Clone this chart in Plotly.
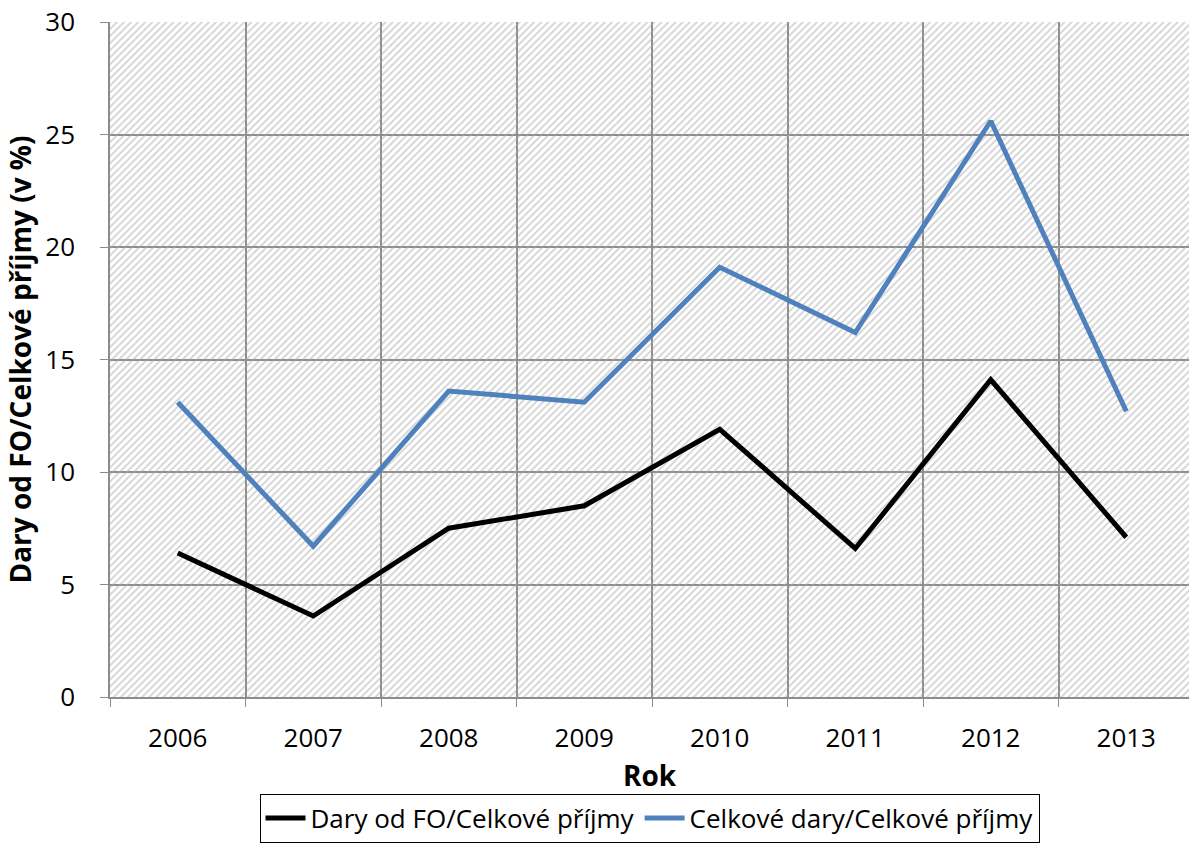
import plotly.graph_objects as go

years = ["2006", "2007", "2008", "2009", "2010", "2011", "2012", "2013"]
dary_fo = [6.4, 3.6, 7.5, 8.5, 11.9, 6.6, 14.1, 7.1]
celkove_dary = [13.1, 6.7, 13.6, 13.1, 19.1, 16.2, 25.6, 12.7]
y_ticks = [0, 5, 10, 15, 20, 25, 30]

FONT = "Open Sans, Noto Sans, sans-serif"
GRID = "#8c8c8c"

fig = go.Figure()

# hatched plot background on the base (hidden) axis pair, below the data subplot
fig.add_trace(go.Bar(
    x=[0.5], y=[1], width=[1], xaxis="x", yaxis="y",
    marker=dict(color="rgba(0,0,0,0)", line=dict(width=0),
                pattern=dict(shape="/", size=5, solidity=0.35,
                             fgcolor="#a8a8a8", fillmode="overlay")),
    showlegend=False, hoverinfo="skip",
))

fig.add_trace(go.Scatter(
    x=years, y=dary_fo, mode="lines", name="Dary od FO/Celkové příjmy",
    xaxis="x2", yaxis="y2",
    line=dict(color="#000000", width=5),
))
fig.add_trace(go.Scatter(
    x=years, y=celkove_dary, mode="lines", name="Celkové dary/Celkové příjmy",
    xaxis="x2", yaxis="y2",
    line=dict(color="#4f81bd", width=5),
))

fig.update_layout(
    width=1189, height=843,
    margin=dict(l=110, r=0, t=22, b=143),
    paper_bgcolor="white", plot_bgcolor="white",
    font=dict(family=FONT, size=26, color="#000000"),
    bargap=0,
    xaxis=dict(range=[0, 1], visible=False, fixedrange=True),
    yaxis=dict(range=[0, 1], visible=False, fixedrange=True),
    xaxis2=dict(
        overlaying="x", type="category", range=[-0.5, 7.463],
        tickson="boundaries", ticks="outside", ticklen=8, tickcolor=GRID,
        showgrid=True, gridcolor=GRID, gridwidth=1.5,
        showline=True, linecolor=GRID, linewidth=1.5,
        ticklabelstandoff=17, tickfont=dict(size=26),
        title=dict(text="<b>Rok</b>", font=dict(size=28), standoff=12),
        zeroline=False,
    ),
    yaxis2=dict(
        overlaying="y", range=[0, 30], tickvals=y_ticks,
        ticks="outside", ticklen=8, tickcolor=GRID,
        showgrid=True, gridcolor=GRID, gridwidth=1.5,
        showline=True, linecolor=GRID, linewidth=1.5,
        ticklabelstandoff=20, zeroline=False, tickfont=dict(size=26),
        title=dict(text="<b>Dary od FO/Celkové příjmy (v %)</b>",
                   font=dict(size=28), standoff=6),
    ),
    legend=dict(
        orientation="h", x=0.5, xanchor="center", y=-0.143, yanchor="top",
        bordercolor="#000000", borderwidth=1, bgcolor="white",
        font=dict(size=26), itemwidth=40, traceorder="normal",
    ),
)

fig.write_html("out.html")
